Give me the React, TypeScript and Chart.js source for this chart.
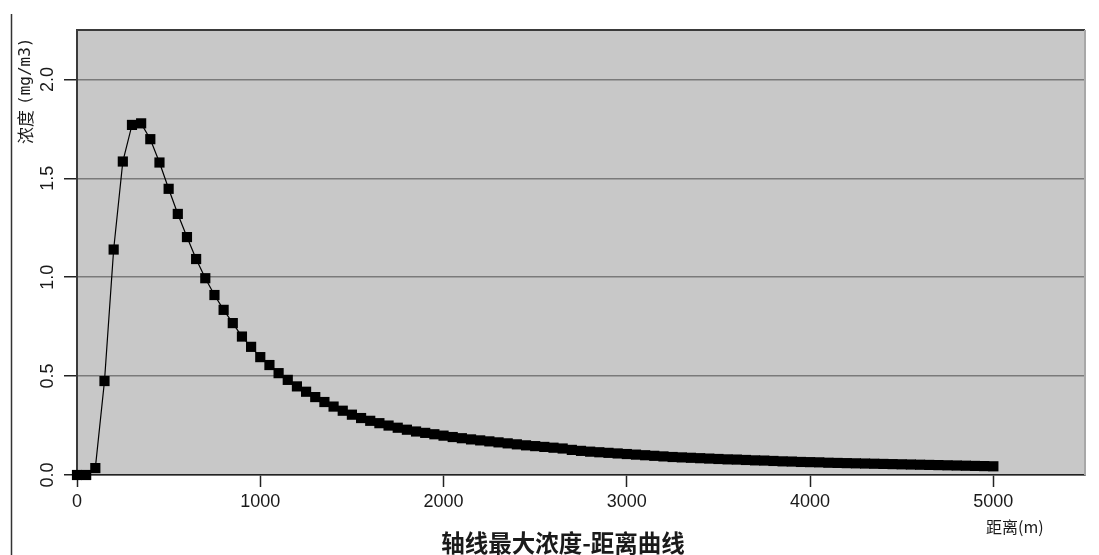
import React, { useEffect, useRef } from "react";
import { Chart, registerables } from "chart.js";

Chart.register(...registerables);

const DISTANCES: number[] = [
  0, 50, 100, 150, 200, 250, 300, 350, 400, 450, 500, 550, 600, 650, 700, 750, 800, 850, 900, 950,
  1000, 1050, 1100, 1150, 1200, 1250, 1300, 1350, 1400, 1450, 1500, 1550, 1600, 1650, 1700, 1750,
  1800, 1850, 1900, 1950, 2000, 2050, 2100, 2150, 2200, 2250, 2300, 2350, 2400, 2450, 2500, 2550,
  2600, 2650, 2700, 2750, 2800, 2850, 2900, 2950, 3000, 3050, 3100, 3150, 3200, 3250, 3300, 3350,
  3400, 3450, 3500, 3550, 3600, 3650, 3700, 3750, 3800, 3850, 3900, 3950, 4000, 4050, 4100, 4150,
  4200, 4250, 4300, 4350, 4400, 4450, 4500, 4550, 4600, 4650, 4700, 4750, 4800, 4850, 4900, 4950, 5000,
];

const CONCENTRATION: number[] = [
  0, 0, 0.035, 0.475, 1.14, 1.585, 1.77, 1.778, 1.698, 1.58, 1.447, 1.32, 1.203, 1.092, 0.995, 0.91,
  0.835, 0.768, 0.7, 0.648, 0.596, 0.556, 0.515, 0.481, 0.448, 0.421, 0.394, 0.369, 0.346, 0.325,
  0.305, 0.288, 0.274, 0.262, 0.25, 0.239, 0.229, 0.22, 0.213, 0.206, 0.199, 0.192, 0.186, 0.18,
  0.175, 0.17, 0.165, 0.16, 0.155, 0.15, 0.146, 0.142, 0.138, 0.134, 0.127, 0.122, 0.118, 0.115,
  0.112, 0.109, 0.106, 0.103, 0.1, 0.097, 0.094, 0.091, 0.089, 0.087, 0.085, 0.083, 0.081, 0.079,
  0.078, 0.076, 0.074, 0.073, 0.071, 0.069, 0.068, 0.066, 0.065, 0.064, 0.062, 0.061, 0.06, 0.059,
  0.058, 0.057, 0.056, 0.055, 0.054, 0.053, 0.052, 0.051, 0.05, 0.049, 0.048, 0.047, 0.046, 0.045, 0.044,
];

const X_TICKS: number[] = [0, 1000, 2000, 3000, 4000, 5000];
const Y_TICKS: number[] = [0, 0.5, 1.0, 1.5, 2.0];
const Y_TICK_LABELS: string[] = ["0.0", "0.5", "1.0", "1.5", "2.0"];
const X_MAX = 5500;
const Y_MAX = 2.25;

const TITLE = "轴线最大浓度-距离曲线";
const X_LABEL = "距离(m)";
const Y_LABEL_CN = "浓度";
const Y_LABEL_UNIT = "(mg/m3)";

const decorPlugin = {
  id: "decor",
  beforeDraw(chart: any) {
    const { ctx, chartArea: a } = chart;
    ctx.save();
    ctx.fillStyle = "#c8c8c8";
    ctx.fillRect(a.left, a.top, a.right - a.left, a.bottom - a.top);
    ctx.restore();
  },
  beforeDatasetsDraw(chart: any) {
    const { ctx, chartArea: a } = chart;
    ctx.save();
    ctx.strokeStyle = "#3a3a3a";
    ctx.lineWidth = 2;
    ctx.beginPath();
    ctx.moveTo(a.left, a.top);
    ctx.lineTo(a.right, a.top);
    ctx.stroke();
    ctx.strokeStyle = "#a8a8a8";
    ctx.beginPath();
    ctx.moveTo(a.right, a.top);
    ctx.lineTo(a.right, a.bottom);
    ctx.stroke();
    ctx.restore();
  },
  afterDraw(chart: any) {
    const { ctx, chartArea: a } = chart;
    const xs = chart.scales.x;
    const ys = chart.scales.y;
    ctx.save();
    // left page border line
    ctx.strokeStyle = "#333";
    ctx.lineWidth = 1.5;
    ctx.beginPath();
    ctx.moveTo(11.5, 14);
    ctx.lineTo(11.5, 555);
    ctx.stroke();

    ctx.fillStyle = "#1a1a1a";
    ctx.font = "18px 'Liberation Sans', Arial, sans-serif";
    ctx.textAlign = "center";
    ctx.textBaseline = "middle";
    X_TICKS.forEach((v) => {
      ctx.fillText(String(v), xs.getPixelForValue(v), a.bottom + 27);
    });
    Y_TICKS.forEach((v, i) => {
      const y = ys.getPixelForValue(v);
      ctx.save();
      ctx.translate(48, y);
      ctx.rotate(-Math.PI / 2);
      ctx.fillText(Y_TICK_LABELS[i], 0, 0);
      ctx.restore();
    });

    // x axis label
    ctx.textAlign = "left";
    ctx.font = "16px 'Noto Sans CJK SC', sans-serif";
    ctx.fillText(X_LABEL, 986, 527);

    // title
    ctx.textAlign = "center";
    ctx.font = "bold 23.5px 'Noto Sans CJK SC', sans-serif";
    ctx.fillText(TITLE, 563, 543);

    // y axis title (rotated, reading bottom to top)
    ctx.save();
    ctx.translate(26, 144);
    ctx.rotate(-Math.PI / 2);
    ctx.textAlign = "left";
    ctx.font = "17px 'Noto Sans CJK SC', sans-serif";
    ctx.fillText(Y_LABEL_CN, 0, 0);
    const w = ctx.measureText(Y_LABEL_CN).width;
    ctx.font = "16px 'DejaVu Sans Mono', monospace";
    ctx.fillText(Y_LABEL_UNIT, w + 5, 0);
    ctx.restore();

    ctx.restore();
  },
};

export default function App() {
  const ref = useRef<HTMLCanvasElement | null>(null);
  useEffect(() => {
    if (!ref.current) return;
    const chart = new Chart(ref.current, {
      type: "line",
      data: {
        datasets: [
          {
            data: DISTANCES.map((d, i) => ({ x: d, y: CONCENTRATION[i] })),
            borderColor: "#000",
            borderWidth: 1.2,
            backgroundColor: "#000",
            pointStyle: "rect",
            pointRadius: 7.2,
            pointBorderWidth: 0,
            pointBackgroundColor: "#000",
            tension: 0,
            clip: false as any,
          },
        ],
      },
      options: {
        animation: false,
        responsive: false,
        devicePixelRatio: 1,
        layout: { padding: { top: 30, right: 14, left: 0, bottom: 0 } },
        plugins: { legend: { display: false }, tooltip: { enabled: false } },
        scales: {
          x: {
            type: "linear",
            min: 0,
            max: X_MAX,
            afterFit: (s: any) => {
              s.height = 80;
            },
            afterBuildTicks: (s: any) => {
              s.ticks = X_TICKS.map((v) => ({ value: v }));
            },
            ticks: { display: false },
            grid: {
              drawOnChartArea: false,
              drawTicks: true,
              tickLength: 12,
              tickColor: "#222",
              tickWidth: 1.5,
            },
            border: { display: true, color: "#222", width: 1.5 },
          },
          y: {
            type: "linear",
            min: 0,
            max: Y_MAX,
            afterFit: (s: any) => {
              s.width = 77;
            },
            afterBuildTicks: (s: any) => {
              s.ticks = Y_TICKS.map((v) => ({ value: v }));
            },
            ticks: { display: false },
            grid: {
              color: "#7a7a7a",
              lineWidth: 1.5,
              drawTicks: true,
              tickLength: 13,
              tickColor: "#222",
              tickWidth: 1.5,
            },
            border: { display: true, color: "#3a3a3a", width: 2 },
          },
        },
      },
      plugins: [decorPlugin],
    });
    return () => chart.destroy();
  }, []);
  return (
    <div style={{ position: "fixed", left: 0, top: 0, width: 1099, height: 555, background: "#fff" }}>
      <canvas ref={ref} width={1099} height={555} style={{ width: 1099, height: 555 }} />
    </div>
  );
}
